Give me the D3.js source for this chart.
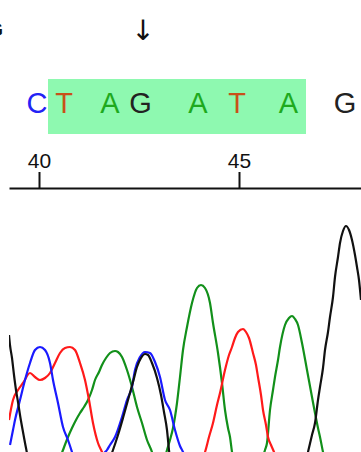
<!DOCTYPE html>
<html>
<head>
<meta charset="utf-8">
<script src="https://cdn.jsdelivr.net/npm/d3@7"></script>
<style>
  html, body { margin: 0; padding: 0; background: #fff; }
  svg { display: block; }
</style>
</head>
<body>
<div id="chart"></div>
<script>
// ---------- data ----------
const tickValues = [40, 45];
const baseLetters = ["C", "T", "A", "G", "A", "T", "A", "G"];
const basePositions = [39.95, 40.625, 41.775, 42.538, 43.975, 44.95, 46.238, 47.65];
const highlightRange = [40.225, 46.675];
const headerLetter = "G";
const arrowLabel = "↓";
const arrowPosition = 42.6;

// trace samples: [base position, signal amplitude]
const traceBlack = [
  [39.25,1350],[39.275,1250],[39.325,1120],[39.375,950],[39.425,800],[39.475,680],[39.525,550],
  [39.6,380],[39.675,220],[39.75,80],[39.9,0],[41.65,0],[41.775,120],[41.85,200],[41.975,350],
  [42.1,520],[42.225,700],[42.35,880],[42.45,1030],[42.55,1120],[42.65,1160],[42.725,1150],
  [42.825,1070],[42.95,920],[43.05,750],[43.125,580],[43.2,400],[43.25,200],[43.3,50],[43.4,0],
  [46.525,0],[46.675,100],[46.725,180],[46.825,350],[46.9,470],[46.975,700],[47.025,830],
  [47.1,1020],[47.15,1200],[47.225,1380],[47.275,1530],[47.35,1730],[47.4,1930],[47.475,2130],
  [47.525,2270],[47.6,2390],[47.675,2440],[47.75,2400],[47.825,2300],[47.9,2150],[47.95,2030],
  [48.0,1900],[48.05,1700]
];
const traceBlue = [
  [39.275,250],[39.35,400],[39.4,500],[39.525,700],[39.65,900],[39.775,1070],[39.9,1200],
  [40.025,1230],[40.15,1200],[40.275,1070],[40.35,900],[40.475,670],[40.6,430],[40.725,300],
  [40.825,180],[40.925,50],[41.025,0],[41.475,0],[41.6,150],[41.7,200],[41.775,250],[41.9,330],
  [42.075,530],[42.2,700],[42.325,830],[42.4,1000],[42.525,1130],[42.65,1180],[42.775,1170],
  [42.9,1080],[43.025,930],[43.15,700],[43.275,600],[43.4,400],[43.525,240],[43.6,180],
  [43.7,60],[43.8,0],[48.05,0]
];
const traceRed = [
  [39.25,500],[39.35,700],[39.475,800],[39.6,870],[39.775,970],[39.9,930],[40.025,900],
  [40.15,920],[40.275,970],[40.4,1070],[40.525,1170],[40.65,1220],[40.775,1230],[40.9,1200],
  [41.025,1070],[41.15,900],[41.25,700],[41.35,470],[41.475,270],[41.575,180],[41.675,80],
  [41.775,0],[43.9,0],[44.025,80],[44.15,180],[44.25,330],[44.35,470],[44.45,650],[44.525,770],
  [44.65,1000],[44.75,1150],[44.825,1230],[44.9,1320],[44.975,1380],[45.1,1410],[45.175,1380],
  [45.25,1320],[45.35,1170],[45.425,1050],[45.475,930],[45.55,750],[45.6,600],[45.675,450],
  [45.725,330],[45.8,250],[45.875,180],[45.975,50],[46.075,0],[48.05,0]
];
const traceGreen = [
  [39.0,0],[40.4,0],[40.525,120],[40.6,200],[40.725,330],[40.825,420],[40.925,500],[41.025,570],
  [41.125,630],[41.225,700],[41.325,800],[41.4,900],[41.5,980],[41.575,1050],[41.675,1120],
  [41.775,1170],[41.9,1190],[41.975,1180],[42.075,1130],[42.2,1000],[42.325,830],[42.45,630],
  [42.575,470],[42.7,300],[42.825,180],[42.925,50],[42.975,0],[43.025,0],[43.125,80],[43.2,200],
  [43.275,300],[43.35,420],[43.45,670],[43.525,930],[43.6,1200],[43.7,1430],[43.825,1670],
  [43.95,1820],[44.05,1850],[44.15,1820],[44.275,1670],[44.35,1470],[44.475,1170],[44.575,870],
  [44.65,600],[44.725,420],[44.775,330],[44.825,180],[44.9,50],[45.025,0],[45.475,0],
  [45.575,100],[45.65,200],[45.7,270],[45.775,600],[45.85,800],[45.9,930],[45.975,1100],
  [46.025,1230],[46.15,1450],[46.25,1520],[46.325,1540],[46.4,1510],[46.475,1450],[46.575,1270],
  [46.7,1000],[46.825,730],[46.9,570],[46.975,420],[47.025,330],[47.1,180],[47.175,50],
  [47.275,0],[48.05,0]
];

// ---------- layout ----------
const W = 361, H = 452;
const axisY = 188, plotLeft = 9;
const letterColor = { C: "#2323f5", T: "#c8501a", A: "#1eaa1e", G: "#222222" };

const svg = d3.select("#chart").append("svg")
  .attr("width", W).attr("height", H);

const x = d3.scaleLinear().domain([39.025, 48.05]).range([0, W]);
const y = d3.scaleLinear().domain([0, 2500]).range([470, 220]);

// header partial letter and arrow
svg.append("text")
  .attr("x", 3).attr("y", 36)
  .attr("text-anchor", "end")
  .attr("font-family", "Liberation Sans, Arial, sans-serif")
  .attr("font-size", 19).attr("font-weight", "bold")
  .attr("fill", "#111")
  .text(headerLetter);

svg.append("text")
  .attr("x", x(arrowPosition)).attr("y", 40)
  .attr("text-anchor", "middle")
  .attr("font-family", "DejaVu Sans, sans-serif")
  .attr("font-size", 28)
  .attr("fill", "#111")
  .text(arrowLabel);

// highlight
svg.append("rect")
  .attr("x", x(highlightRange[0]))
  .attr("y", 79)
  .attr("width", x(highlightRange[1]) - x(highlightRange[0]))
  .attr("height", 55)
  .attr("fill", "#8ef9b0");

// base letters
svg.append("g").selectAll("text")
  .data(baseLetters.map((l, i) => ({ l, p: basePositions[i] })))
  .join("text")
  .attr("x", d => x(d.p))
  .attr("y", 113)
  .attr("text-anchor", "middle")
  .attr("font-family", "Liberation Sans, Arial, sans-serif")
  .attr("font-size", 29)
  .attr("fill", d => letterColor[d.l])
  .text(d => d.l);

// axis
const xa = x.copy().domain([x.invert(plotLeft), 48.05]).range([plotLeft, W]);
const axis = svg.append("g")
  .attr("transform", `translate(0,${axisY})`)
  .call(d3.axisTop(xa).tickValues(tickValues).tickSize(16).tickSizeOuter(0).tickPadding(4).tickFormat(d3.format("d")));
axis.select(".domain").attr("stroke", "#111").attr("stroke-width", 2);
axis.selectAll(".tick line").attr("stroke", "#111").attr("stroke-width", 2);
axis.selectAll(".tick text")
  .attr("font-family", "Liberation Sans, Arial, sans-serif")
  .attr("font-size", 21)
  .attr("fill", "#111");

// traces
svg.append("clipPath").attr("id", "plotclip")
  .append("rect").attr("x", plotLeft).attr("y", axisY + 2).attr("width", W - plotLeft).attr("height", H - axisY);

const line = d3.line().x(d => x(d[0])).y(d => y(d[1])).curve(d3.curveMonotoneX);
const traces = [
  { data: traceGreen, color: "#12901a" },
  { data: traceRed, color: "#ff1a1a" },
  { data: traceBlue, color: "#1a1aff" },
  { data: traceBlack, color: "#111111" }
];
svg.append("g").attr("clip-path", "url(#plotclip)")
  .selectAll("path").data(traces).join("path")
  .attr("d", d => line(d.data))
  .attr("fill", "none")
  .attr("stroke", d => d.color)
  .attr("stroke-width", 2.2);
</script>
</body>
</html>
